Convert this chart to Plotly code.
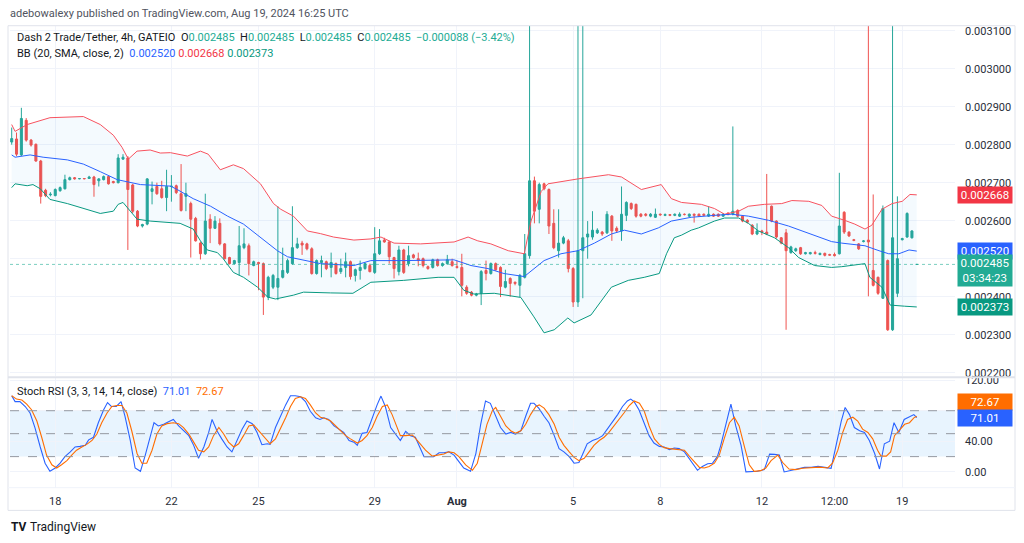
import plotly.graph_objects as go

# ---------------- DATA ----------------
SCALE = 1e-6  # prices below are in millionths of USDT

OPEN = [2807,2815,2773,2864,2812,2801,2757,2680,2668,2666,2679,2684,2708,2713,2710,2711,2711,2715,2705,2708,
        2716,2703,2700,2762,2765,2694,2625,2586,2591,2677,2690,2684,2661,2690,2692,2671,2664,2645,2606,2541,
        2513,2604,2580,2593,2539,2503,2487,2490,2529,2534,2482,2490,2487,2399,2425,2425,2451,2464,2487,2529,
        2541,2539,2526,2461,2490,2492,2477,2487,2466,2477,2492,2456,2469,2474,2482,2464,2513,2549,2544,2503,
        2466,2523,2487,2510,2500,2500,2479,2477,2497,2482,2487,2492,2479,2477,2425,2412,2404,2409,2469,2461,
        2487,2477,2425,2448,2438,2430,2451,2508,2705,2630,2697,2682,2593,2521,2541,2547,2474,2386,2521,2557,
        2557,2568,2570,2568,2612,2580,2573,2614,2645,2643,2617,2617,2612,2609,2617,2614,2616,2614,2612,2617,
        2612,2617,2617,2617,2612,2617,2617,2612,2620,2617,2627,2612,2601,2588,2565,2573,2570,2638,2599,2555,
        2568,2516,2521,2529,2513,2513,2516,2511,2514,2511,2511,2513,2622,2570,2550,2539,2545,2549,2469,2451,
        2396,2495,2313,2409,2550,2557,2555,2485]
HIGH = [2845,2832,2897,2870,2815,2803,2760,2684,2675,2685,2690,2721,2716,2715,2712,2712,2718,2718,2712,2719,
        2718,2705,2775,2775,2770,2697,2628,2592,2712,2703,2700,2705,2734,2720,2695,2749,2700,2650,2610,2545,
        2671,2617,2612,2606,2541,2505,2497,2586,2580,2540,2495,2492,2490,2455,2460,2638,2529,2500,2638,2555,
        2547,2542,2530,2498,2508,2495,2516,2490,2500,2516,2495,2474,2495,2490,2487,2583,2578,2555,2547,2505,
        2534,2526,2534,2513,2516,2503,2482,2500,2500,2490,2510,2500,2495,2513,2430,2415,2410,2470,2495,2490,
        2490,2480,2471,2451,2440,2460,2565,3300,2716,2700,2700,2685,2630,2630,2560,2552,2478,3300,3300,2599,
        2625,2580,2573,2625,2615,2585,2690,2651,2648,2645,2620,2620,2620,2632,2619,2619,2617,2619,2622,2619,
        2619,2619,2619,2619,2638,2619,2619,2620,2622,2848,2630,2614,2604,2591,2593,2576,2723,2640,2601,2557,
        2578,2534,2529,2531,2518,2518,2521,2516,2516,2513,2516,2726,2625,2572,2552,2541,2549,3300,2669,2453,
        2640,2498,3300,2664,2555,2622,2575,2485]
LOW = [2800,2770,2770,2808,2795,2755,2645,2662,2664,2664,2676,2682,2706,2708,2709,2709,2710,2663,2690,2706,
       2695,2698,2698,2760,2523,2620,2583,2582,2588,2643,2668,2658,2625,2650,2670,2624,2625,2503,2545,2498,
       2510,2541,2578,2535,2498,2485,2485,2456,2525,2456,2480,2417,2352,2391,2420,2391,2448,2460,2484,2526,
       2510,2522,2458,2458,2451,2470,2451,2458,2460,2451,2445,2440,2445,2471,2464,2460,2510,2542,2487,2448,
       2456,2460,2480,2500,2480,2477,2471,2474,2479,2479,2484,2479,2474,2401,2405,2401,2401,2378,2443,2458,
       2468,2399,2422,2400,2430,2399,2448,2500,2593,2593,2680,2565,2525,2503,2538,2464,2373,2373,2396,2500,
       2550,2565,2560,2565,2547,2568,2547,2599,2628,2608,2609,2611,2609,2607,2613,2612,2612,2612,2610,2614,
       2610,2595,2610,2612,2610,2610,2610,2610,2614,2614,2609,2596,2593,2562,2562,2562,2562,2596,2553,2538,
       2313,2513,2518,2510,2511,2511,2511,2509,2506,2508,2506,2511,2565,2557,2546,2523,2543,2401,2427,2405,
       2394,2310,2310,2399,2548,2555,2553,2485]
CLOSE = [2816,2775,2869,2812,2799,2757,2664,2666,2670,2682,2687,2708,2713,2710,2711,2710,2715,2695,2710,2716,
         2697,2700,2765,2767,2682,2625,2586,2590,2710,2684,2671,2661,2690,2691,2674,2627,2671,2604,2547,2513,
         2599,2580,2599,2539,2500,2487,2495,2534,2539,2487,2492,2487,2399,2451,2456,2448,2469,2495,2529,2539,
         2536,2526,2461,2495,2495,2474,2490,2461,2474,2492,2453,2471,2477,2487,2466,2513,2547,2544,2505,2474,
         2523,2464,2508,2503,2495,2482,2474,2497,2482,2487,2497,2482,2477,2430,2409,2404,2407,2466,2461,2487,
         2471,2427,2440,2435,2435,2456,2513,2705,2625,2695,2684,2586,2529,2541,2555,2474,2386,2521,2555,2565,
         2575,2575,2565,2617,2573,2573,2617,2648,2632,2612,2612,2614,2617,2617,2615,2616,2614,2617,2617,2616,
         2617,2614,2612,2614,2617,2612,2612,2617,2617,2625,2612,2599,2596,2565,2573,2570,2565,2599,2557,2541,
         2521,2531,2526,2513,2516,2516,2514,2514,2509,2509,2508,2586,2570,2560,2548,2526,2547,2544,2430,2409,
         2632,2313,2555,2500,2553,2619,2573,2485]

# Bollinger Bands (20, SMA, close, 2): candle index -> value
BB_UPPER_IDX = [0,0.7,3.2,7.9,14.8,18.3,21.0,22.8,24.1,25.9,28.6,30.7,32.8,36.3,39.0,40.6,43.1,45.8,47.9,51.4,
                54.1,55.6,58.2,61.1,63.8,66.5,70.7,74.2,76.3,79.0,84.5,91.4,94.3,96.3,99.0,102.6,105.9,107.3,109.4,110.8,
                117.0,123.3,126.0,130.1,134.2,136.3,138.4,142.5,145.2,147.3,150.2,152.2,155.5,159.1,161.2,164.7,167.4,169.4,172.1,174.2,
                176.3,177.7,179.8,181.9,184.0,185.6,187]
BB_UPPER = [2853,2835,2853,2871,2874,2853,2825,2793,2762,2783,2786,2778,2779,2770,2783,2775,2734,2747,2737,2697,
            2645,2630,2612,2573,2566,2557,2549,2552,2557,2541,2539,2544,2557,2547,2539,2521,2513,2599,2677,2697,
            2710,2721,2715,2682,2695,2658,2648,2643,2632,2617,2625,2638,2643,2645,2653,2651,2640,2612,2601,2591,
            2578,2588,2630,2645,2651,2669,2668]
BB_BASIS_IDX = [0,0.7,3.8,6.5,11.5,14.8,18.3,21.8,26.6,32.8,34.2,37.5,41.1,44.6,47.9,51.4,54.9,57.0,61.1,63.8,
                70.7,74.2,81.0,91.4,94.9,98.4,101.7,103.4,105.9,110.0,113.5,117.0,120.4,123.9,126.6,130.1,133.6,136.3,140.4,145.2,
                148.7,152.2,156.4,160.5,165.9,169.4,171.5,176.3,179.2,181.2,183.3,185.4,187]
BB_BASIS = [2773,2767,2773,2767,2760,2749,2729,2708,2695,2691,2682,2658,2638,2612,2591,2555,2521,2505,2495,2487,
            2482,2495,2495,2497,2482,2474,2461,2458,2453,2495,2513,2521,2541,2565,2575,2565,2581,2599,2609,2614,
            2617,2612,2601,2586,2560,2545,2541,2534,2521,2513,2513,2523,2520]
BB_LOWER_IDX = [0,0.7,3.2,4.4,5.9,7.9,11.5,14.8,18.3,21.0,22.0,23.0,24.5,25.9,28.6,32.8,34.8,37.5,39.0,40.4,
                42.5,43.7,45.8,47.9,50.8,52.9,54.5,58.2,60.3,65.9,70.5,74.2,81.0,88.1,91.4,93.4,95.5,99.7,102.6,105.2,
                107.9,110.0,112.1,114.9,116.2,119.7,123.9,127.4,130.7,133.8,135.3,136.9,138.4,140.4,141.9,145.2,147.3,150.2,152.2,154.3,
                157.6,160.5,162.6,165.9,169.4,171.5,176.3,177.3,179.8,181.5,184.5,187]
BB_LOWER = [2687,2697,2692,2695,2684,2656,2645,2632,2619,2625,2643,2648,2625,2604,2599,2596,2593,2578,2547,2523,
            2516,2500,2464,2451,2425,2399,2394,2404,2412,2410,2409,2438,2443,2451,2451,2417,2407,2409,2404,2398,
            2347,2305,2313,2344,2331,2352,2425,2443,2451,2461,2513,2555,2562,2575,2581,2599,2607,2607,2593,2573,
            2555,2529,2503,2482,2477,2479,2487,2451,2425,2378,2375,2373]

# Stoch RSI (3, 3, 14, 14, close): candle index -> value
K_IDX = [0,0.7,1.7,2.8,3.8,4.8,5.9,6.9,7.9,9.0,10.0,11.0,12.1,13.1,14.1,15.2,15.9,16.9,17.9,19.0,
         19.8,20.6,21.6,22.6,23.4,24.5,25.5,26.6,27.6,28.6,29.4,30.3,31.4,32.4,33.4,34.5,35.5,36.6,37.6,38.6,
         39.7,40.7,41.4,42.4,43.4,44.5,45.5,46.6,47.6,48.6,49.7,50.7,51.7,52.8,53.4,54.5,55.5,56.6,57.6,58.6,
         59.7,60.7,61.7,62.8,63.7,64.5,65.5,66.6,67.6,68.6,69.7,70.7,71.4,72.4,73.4,74.5,75.5,76.3,77.2,78.3,
         79.3,80.3,81.4,82.4,83.4,85.2,86.2,87.2,88.3,89.3,90.3,91.4,92.4,93.4,94.8,95.9,96.9,97.9,98.9,100.0,
         101.0,102.1,103.1,104.1,105.2,106.2,107.2,107.9,108.9,110.0,111.0,112.1,113.1,114.1,115.2,116.2,117.2,117.9,118.9,120.0,
         121.0,122.1,123.1,124.1,125.2,126.2,127.2,127.9,128.6,129.6,130.7,131.7,132.7,133.8,134.8,135.9,136.9,137.9,139.0,140.0,
         141.0,141.7,142.7,143.8,144.8,145.8,146.5,147.6,148.6,149.6,150.7,151.7,152.7,154.1,155.5,156.6,157.6,158.6,159.6,161.0,
         162.4,163.8,165.2,166.6,168.0,169.3,170.4,171.4,172.2,173.1,174.1,175.2,176.2,177.2,178.3,179.3,180.3,181.4,182.3,183.3,
         184.4,185.4,186.4,187]
K_VAL = [99.5,91.9,91.9,85.5,77.0,58.0,32.6,11.4,0.8,5.1,11.4,19.9,26.2,32.6,33.4,34.7,41.9,45.3,64.3,81.3,
         90.6,85.5,85.5,91.9,72.8,41.1,5.1,0.8,22.0,45.3,64.3,60.1,62.2,65.6,68.6,60.1,53.8,47.4,34.7,17.8,
         32.6,51.6,68.6,53.8,43.2,32.6,26.2,41.1,55.9,66.5,63.1,51.6,35.6,36.8,36.0,58.0,72.8,87.6,99.5,99.5,
         98.2,91.9,79.2,70.7,68.6,70.7,68.6,60.1,55.9,51.6,41.1,38.9,34.7,50.4,51.6,70.7,87.6,99.1,85.5,58.0,
         49.5,41.1,52.9,47.4,45.3,19.9,19.9,19.9,25.0,25.0,26.2,22.0,13.5,5.1,0.8,24.0,62.2,92.7,89.7,72.8,
         58.0,49.5,51.6,49.5,53.8,72.8,89.7,89.7,83.4,72.8,64.3,47.4,30.5,26.2,19.9,11.4,12.3,22.0,36.8,41.1,
         43.2,47.4,55.9,64.3,74.9,85.5,92.7,95.2,91.9,81.3,64.3,47.4,37.7,33.4,32.6,29.2,31.3,30.5,26.2,17.8,
         8.0,2.1,7.2,10.6,11.4,19.9,34.7,64.3,88.5,60.1,34.7,0.0,0.0,0.8,3.0,23.3,22.9,22.0,0.0,1.7,
         3.8,5.9,5.9,7.2,5.9,4.7,36.8,66.5,84.2,74.9,58.0,53.8,51.6,41.1,24.1,3.8,36.8,40.2,64.3,51.6,
         68.6,71.5,74.9,71.01]
D_IDX = [0,1.0,2.1,3.1,4.1,5.2,6.2,7.2,8.3,9.3,10.3,11.4,12.4,13.4,14.5,15.5,16.6,17.6,18.6,19.7,
         20.7,21.7,22.8,23.8,24.8,25.9,26.9,27.9,29.0,30.0,31.0,32.1,33.4,34.5,35.5,36.6,37.6,38.6,39.7,40.7,
         41.7,42.8,43.8,44.8,45.9,46.9,47.9,49.0,50.0,51.0,52.1,53.4,54.5,55.5,56.6,57.6,58.6,59.7,60.7,61.7,
         62.8,63.8,64.8,65.9,66.9,67.9,69.0,70.0,71.4,72.4,73.4,74.5,75.5,76.6,77.6,78.6,79.7,80.3,81.4,82.8,
         84.1,85.5,86.9,87.9,89.3,90.3,91.4,92.4,93.8,95.2,96.2,97.2,98.2,99.3,100.0,101.0,102.1,103.1,104.1,105.2,
         106.2,107.2,108.3,109.0,110.0,111.0,112.1,113.1,114.1,115.2,116.2,117.2,118.3,119.3,120.3,121.4,122.4,123.4,124.5,125.5,
         126.5,127.6,128.6,129.7,130.7,131.7,132.8,133.8,134.8,135.9,136.9,138.0,139.0,140.0,141.0,142.1,143.1,144.1,145.2,146.2,
         147.2,148.3,149.3,150.3,151.4,152.4,153.4,154.8,155.8,156.9,158.3,159.3,160.6,162.0,163.4,165.2,166.9,168.6,169.6,170.7,
         171.7,172.7,173.8,174.8,175.8,176.9,177.9,178.9,179.6,180.7,181.6,182.4,183.4,184.5,185.5,186.4,187]
D_VAL = [99.5,95.2,94.0,88.5,81.3,66.5,45.3,22.0,9.3,5.1,9.3,14.8,22.0,28.4,32.6,36.0,41.1,49.5,64.3,77.0,
         85.5,86.8,86.8,77.0,53.8,24.1,11.4,11.4,28.4,49.5,60.1,63.1,64.3,63.1,58.0,49.5,38.9,28.4,26.2,32.6,
         47.4,58.0,49.5,38.9,32.6,36.8,47.4,60.1,61.4,53.8,45.3,36.8,43.2,55.9,70.7,85.5,96.1,98.2,96.1,87.6,
         77.0,71.5,69.8,66.5,60.1,53.8,47.4,43.2,37.7,41.1,47.4,58.0,72.8,85.5,87.6,74.9,58.0,47.4,47.4,48.3,
         38.9,28.4,20.7,22.0,23.3,26.2,25.0,19.9,9.3,2.1,11.4,36.8,62.2,80.0,84.2,72.8,60.1,53.8,50.4,53.8,
         62.2,74.9,85.5,87.6,83.4,74.9,62.2,45.3,34.7,26.2,19.0,14.8,17.8,26.2,34.7,41.1,45.3,51.6,60.1,68.6,
         77.0,86.8,92.7,89.7,79.2,60.1,43.2,36.0,31.7,30.5,30.1,29.6,28.4,20.7,13.5,5.9,5.1,7.2,11.4,22.0,
         43.2,64.3,71.5,60.1,32.6,9.3,0.8,1.7,5.1,14.8,22.0,12.3,3.8,3.0,4.7,5.9,6.3,5.1,11.4,28.4,
         51.6,68.6,71.5,66.5,55.9,51.6,43.2,28.4,20.7,20.7,26.2,47.4,53.8,62.2,64.3,70.7,72.67]
STOCH_LEVELS = [80, 50, 20]

DATE_TICK_IDX = [9, 33, 51, 75, 92, 116, 134, 155, 170, 184]
DATE_TICK_TEXT = ["18", "22", "25", "29", "<b>Aug</b>", "5", "8", "12", "12:00", "19"]
PRICE_TICKS = [0.0022, 0.0023, 0.0024, 0.0025, 0.0026, 0.0027, 0.0028, 0.0029, 0.0030, 0.0031]
STOCH_TICKS = [0, 40, 80, 120]
COUNTDOWN = "03:34:23"

# ---------------- STYLE ----------------
W, H = 1024, 543
UP, DN = "#26a69a", "#ef5350"
FONT = "Roboto"
TXT = "#131722"
AX = "#2a2e39"
GRID = "#f0f3fa"

def px(xp):
    return xp / W

def py(yp):
    return 1 - yp / H

n = len(CLOSE)
idx = list(range(n))
o = [v * SCALE for v in OPEN]
h = [v * SCALE for v in HIGH]
l = [v * SCALE for v in LOW]
c = [v * SCALE for v in CLOSE]
up = [i for i in idx if c[i] >= o[i]]
dn = [i for i in idx if c[i] < o[i]]

fig = go.Figure()

# Bollinger fill
bx = BB_UPPER_IDX + BB_LOWER_IDX[::-1]
by = [v * SCALE for v in BB_UPPER] + [v * SCALE for v in BB_LOWER[::-1]]
fig.add_trace(go.Scatter(x=bx, y=by, fill="toself", fillcolor="rgba(33,150,243,0.05)",
                         line=dict(width=0), mode="lines", hoverinfo="skip", xaxis="x", yaxis="y"))

# wicks
for sel, col in ((up, UP), (dn, DN)):
    wx, wy = [], []
    for i in sel:
        wx += [i, i, None]
        wy += [l[i], h[i], None]
    fig.add_trace(go.Scatter(x=wx, y=wy, mode="lines", line=dict(color=col, width=1),
                             hoverinfo="skip", xaxis="x", yaxis="y"))
# bodies
for sel, col in ((up, UP), (dn, DN)):
    fig.add_trace(go.Bar(x=sel, y=[abs(c[i] - o[i]) for i in sel], base=[min(o[i], c[i]) for i in sel],
                         width=0.42, marker=dict(color=col, line=dict(color=col, width=1)),
                         hoverinfo="skip", xaxis="x", yaxis="y"))

# BB lines
for xs, ys, col in ((BB_UPPER_IDX, BB_UPPER, "#f7525f"), (BB_BASIS_IDX, BB_BASIS, "#2962ff"),
                    (BB_LOWER_IDX, BB_LOWER, "#089981")):
    fig.add_trace(go.Scatter(x=xs, y=[v * SCALE for v in ys], mode="lines",
                             line=dict(color=col, width=1), hoverinfo="skip", xaxis="x", yaxis="y"))

# Stoch RSI
fig.add_trace(go.Scatter(x=K_IDX, y=K_VAL, mode="lines", line=dict(color="#2962ff", width=1.1),
                         hoverinfo="skip", xaxis="x2", yaxis="y2"))
fig.add_trace(go.Scatter(x=D_IDX, y=D_VAL, mode="lines", line=dict(color="#ff6d00", width=1.1),
                         hoverinfo="skip", xaxis="x2", yaxis="y2"))

XL, XR = 10, 955
xr = [-0.35, 194.9]
fig.update_layout(
    width=W, height=H, margin=dict(l=0, r=0, t=0, b=0),
    paper_bgcolor="white", plot_bgcolor="white", showlegend=False, barmode="overlay",
    font=dict(family=FONT, size=11, color=AX),
    xaxis=dict(domain=[px(XL), px(XR)], range=xr, anchor="y", tickvals=DATE_TICK_IDX,
               showticklabels=False, showgrid=True, gridcolor=GRID, zeroline=False, ticks=""),
    xaxis2=dict(domain=[px(XL), px(XR)], range=xr, anchor="y2", matches="x", tickvals=DATE_TICK_IDX,
                ticktext=DATE_TICK_TEXT, showgrid=True, gridcolor=GRID, zeroline=False, ticks="",
                ticklabelstandoff=5, tickfont=dict(size=11, color=AX, family=FONT)),
    yaxis=dict(domain=[py(377), py(22)], range=[0.002191, 0.003113], side="right", anchor="x",
               tickvals=PRICE_TICKS,
               ticktext=["" if abs(t - 0.0025) < 1e-9 else f"{t:.6f}" for t in PRICE_TICKS],
               showgrid=True, gridcolor=GRID, zeroline=False, ticks="", ticklabelstandoff=9,
               tickfont=dict(size=11, color=AX, family=FONT)),
    yaxis2=dict(domain=[py(490), py(379)], range=[-20.6, 122.6], side="right", anchor="x2",
                tickvals=STOCH_TICKS,
                ticktext=["" if t == 80 else f"{t:.2f}" for t in STOCH_TICKS],
                showgrid=True, gridcolor=GRID, zeroline=False, ticks="", ticklabelstandoff=9,
                tickfont=dict(size=11, color=AX, family=FONT)),
)

shapes = []
# stoch band fill and levels
shapes.append(dict(type="rect", xref="x2 domain", yref="y2", x0=0, x1=1, y0=STOCH_LEVELS[2], y1=STOCH_LEVELS[0],
                   fillcolor="rgba(33,150,243,0.10)", line=dict(width=0), layer="below"))
for lv in STOCH_LEVELS:
    shapes.append(dict(type="line", xref="x2 domain", yref="y2", x0=0, x1=1, y0=lv, y1=lv,
                       line=dict(color="#9598a1", width=1, dash="dash")))
# current price dotted line
shapes.append(dict(type="line", xref="x domain", yref="y", x0=0, x1=1, y0=c[-1], y1=c[-1],
                   line=dict(color="rgba(34,171,148,0.6)", width=1, dash="dot")))
# frame & separators
shapes.append(dict(type="rect", xref="paper", yref="paper", x0=px(8), x1=px(1015), y0=py(513), y1=py(22),
                   line=dict(color="#e0e3eb", width=1)))
shapes.append(dict(type="line", xref="paper", yref="paper", x0=px(8), x1=px(1015), y0=py(378), y1=py(378),
                   line=dict(color="#e0e3eb", width=2)))
shapes.append(dict(type="line", xref="paper", yref="paper", x0=px(8), x1=px(1015), y0=py(490), y1=py(490),
                   line=dict(color="#f0f3fa", width=1)))
fig.update_layout(shapes=shapes)

def fmt(v):
    return f"{v:.6f}"

chg = c[-1] - c[-2]
pct = chg / c[-2] * 100
minus = "\u2212"
sgn = minus if chg < 0 else "+"
G = "#22ab94"
sp = "&nbsp;"
line1 = (f"<span style='color:{TXT}'>Dash 2 Trade/Tether, 4h, GATEIO</span>{sp*2}"
         f"<span style='color:{TXT}'>O</span><span style='color:{G}'>{fmt(o[-1])}</span>{sp*2}"
         f"<span style='color:{TXT}'>H</span><span style='color:{G}'>{fmt(h[-1])}</span>{sp*2}"
         f"<span style='color:{TXT}'>L</span><span style='color:{G}'>{fmt(l[-1])}</span>{sp*2}"
         f"<span style='color:{TXT}'>C</span><span style='color:{G}'>{fmt(c[-1])}</span>{sp*2}"
         f"<span style='color:{G}'>{sgn}{fmt(abs(chg))} ({sgn}{abs(pct):.2f}%)</span>")
line2 = (f"<span style='color:{TXT}'>BB (20, SMA, close, 2)</span>{sp*2}"
         f"<span style='color:#2962ff'>{fmt(BB_BASIS[-1]*SCALE)}</span>{sp}"
         f"<span style='color:#f23645'>{fmt(BB_UPPER[-1]*SCALE)}</span>{sp}"
         f"<span style='color:#089981'>{fmt(BB_LOWER[-1]*SCALE)}</span>")
line3 = (f"<span style='color:{TXT}'>Stoch RSI (3, 3, 14, 14, close)</span>{sp*2}"
         f"<span style='color:#2962ff'>{K_VAL[-1]:.2f}</span>{sp*2}"
         f"<span style='color:#ff6d00'>{D_VAL[-1]:.2f}</span>")

ann = []
def text(xp, yp, s, size=11, color=TXT):
    ann.append(dict(xref="paper", yref="paper", x=px(xp), y=py(yp), xanchor="left", yanchor="middle",
                    text=s, showarrow=False, font=dict(family=FONT, size=size, color=color)))

text(8, 10, "adebowalexy published on TradingView.com, Aug 19, 2024 16:25 UTC", 11, "#50535e")
text(15, 34, line1, 11)
text(15, 50, line2, 11)
text(15, 393, line3, 11)
text(9, 530, "<b>TV</b>", 12, "#131722")
text(28, 530, "TradingView", 12, "#131722")

def badge(yv, yref, s, bg, yshift=0):
    ann.append(dict(xref="paper", yref=yref, x=px(957), y=yv, xanchor="left", yanchor="middle",
                    text=s, showarrow=False, bgcolor=bg, borderpad=1, width=52, align="center",
                    yshift=yshift, font=dict(family=FONT, size=11.5, color="white")))

badge(BB_UPPER[-1] * SCALE, "y", fmt(BB_UPPER[-1] * SCALE), "#f23645")
badge(BB_BASIS[-1] * SCALE, "y", fmt(BB_BASIS[-1] * SCALE), "#2962ff")
badge(c[-1], "y", f"{fmt(c[-1])}<br>{COUNTDOWN}", "#22ab94", yshift=-6)
badge(BB_LOWER[-1] * SCALE, "y", fmt(BB_LOWER[-1] * SCALE), "#089981")
badge(D_VAL[-1], "y2", f"{D_VAL[-1]:.2f}", "#ff6d00", yshift=14)
badge(K_VAL[-1], "y2", f"{K_VAL[-1]:.2f}", "#2962ff")
fig.update_layout(annotations=ann)

fig.write_html("out.html", config={"displayModeBar": False},
               post_script="document.body.style.margin='0';document.body.style.padding='0';")
